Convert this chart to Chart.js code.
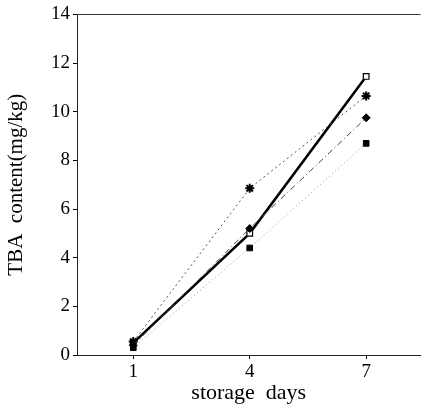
<!DOCTYPE html>
<html><head><meta charset="utf-8">
<script src="https://cdn.jsdelivr.net/npm/chart.js@4"></script>
<style>html,body{margin:0;padding:0;background:#fff}#w{width:427px;height:406px}</style>
</head><body><div id="w"><canvas id="c"></canvas></div>
<script>
const days = [1, 4, 7];
const seriesA = [0.5, 5.0, 11.45];   // solid, open square
const seriesB = [0.55, 6.85, 10.65]; // dashed, asterisk
const seriesC = [0.4, 5.2, 9.75];    // dash-dot, diamond
const seriesD = [0.3, 4.4, 8.7];     // dotted, filled square
const xTicks = [1, 4, 7];
const yTicks = [0, 2, 4, 6, 8, 10, 12, 14];

const pts = arr => days.map((d, i) => ({x: d, y: arr[i]}));
const serif = "'Liberation Serif', 'DejaVu Serif', serif";

const topBorder = {
  id: 'topBorder',
  afterDraw(chart) {
    const {ctx, chartArea: a} = chart;
    ctx.save();
    ctx.strokeStyle = '#333';
    ctx.lineWidth = 1;
    ctx.beginPath();
    ctx.moveTo(a.left, Math.round(a.top) + 0.5);
    ctx.lineTo(a.right, Math.round(a.top) + 0.5);
    ctx.stroke();
    ctx.restore();
  }
};

new Chart(document.getElementById('c'), {
  type: 'scatter',
  data: {
    datasets: [
      {data: pts(seriesD), showLine: true, borderColor: '#9a9a9a', borderWidth: 1, borderDash: [1, 3],
       pointStyle: 'rect', pointRadius: 4, pointBackgroundColor: '#000', pointBorderColor: '#000'},
      {data: pts(seriesC), showLine: true, borderColor: '#444', borderWidth: 1, borderDash: [6, 3, 1, 3],
       pointStyle: 'rectRot', pointRadius: 4, pointBackgroundColor: '#000', pointBorderColor: '#000'},
      {data: pts(seriesB), showLine: true, borderColor: '#555', borderWidth: 1, borderDash: [2, 3],
       pointStyle: 'star', pointRadius: 4.5, pointBorderWidth: 2, pointBackgroundColor: '#000', pointBorderColor: '#000'},
      {data: pts(seriesA), showLine: true, borderColor: '#000', borderWidth: 2.5,
       pointStyle: 'rect', pointRadius: 4, pointBorderWidth: 1.2, pointBackgroundColor: '#fff', pointBorderColor: '#000'}
    ]
  },
  options: {
    responsive: true, maintainAspectRatio: false, animation: false,
    layout: {padding: {top: 13, right: 2, left: 0, bottom: 0}},
    plugins: {legend: {display: false}, tooltip: {enabled: false}},
    scales: {
      x: {
        type: 'linear', min: -0.45, max: 8.4,
        afterBuildTicks: s => { s.ticks = xTicks.map(v => ({value: v})); },
        afterFit: s => { s.height = 51; },
        grid: {drawOnChartArea: false, tickLength: 4, color: '#000'},
        border: {color: '#222', width: 1, dash: [10, 2]},
        ticks: {color: '#000', font: {family: serif, size: 19}, padding: 2},
        title: {display: true, text: 'storage  days', color: '#000', font: {family: serif, size: 22}, padding: {top: -3, bottom: 0}}
      },
      y: {
        type: 'linear', min: 0, max: 14,
        afterBuildTicks: s => { s.ticks = yTicks.map(v => ({value: v})); },
        afterFit: s => { s.width = 77; },
        grid: {drawOnChartArea: false, tickLength: 4, color: '#000'},
        border: {color: '#222', width: 1},
        ticks: {color: '#000', font: {family: serif, size: 19}, padding: 3},
        title: {display: true, text: 'TBA  content(mg/kg)', color: '#000', font: {family: serif, size: 21}, padding: {bottom: 4}}
      }
    }
  },
  plugins: [topBorder]
});
</script></body></html>
